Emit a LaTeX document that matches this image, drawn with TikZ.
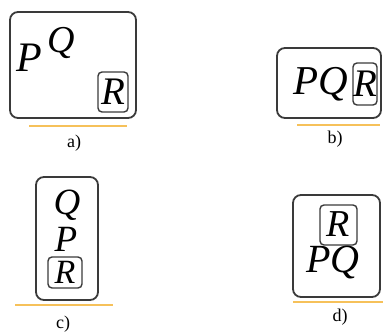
\documentclass[tikz,border=0pt]{standalone}
\usepackage{fontspec}
\setmainfont{Liberation Serif}
\definecolor{boxgray}{HTML}{3A3A3A}
\definecolor{lineorange}{HTML}{F6C15A}
\tikzset{
  outerbox/.style={draw=boxgray, line width=1.8pt, rounded corners=8pt},
  rbox/.style={draw=boxgray, line width=1.4pt, rounded corners=4pt},
  letter/.style={inner sep=0pt, font=\fontsize{#1}{#1}\selectfont\itshape},
  uline/.style={draw=lineorange, line width=1.3pt},
  caption/.style={inner sep=0pt, font=\fontsize{18}{18}\selectfont}
}
\begin{document}
\begin{tikzpicture}[x=1pt,y=-1pt]
\useasboundingbox (0,0) rectangle (383,336);
% ---- a)
\draw[outerbox] (10,12) rectangle (136,118);
\node[letter=42, anchor=base west] (aP) at (16,72) {P};
\node[letter=38, anchor=base west] (aQ) at (47,53) {Q};
\draw[rbox] (98,72) rectangle (128,112);
\node[letter=39] (aR) at (113,92) {R};
\coordinate (aL1) at (29,126); \coordinate (aL2) at (127,126);
\draw[uline] (aL1) -- (aL2);
\node[caption] (acap) at (74,143) {a)};
% ---- b)
\draw[outerbox] (277,48) rectangle (381,118);
\node[letter=41, anchor=base west] (bPQ) at (293,95) {PQ};
\draw[rbox] (353,63) rectangle (377,105);
\node[letter=39] (bR) at (365,84) {R};
\coordinate (bL1) at (297,125); \coordinate (bL2) at (380,125);
\draw[uline] (bL1) -- (bL2);
\node[caption] (bcap) at (335,139) {b)};
% ---- c)
\draw[outerbox] (36,177) rectangle (98,300);
\node[letter=37, anchor=base] (cQ) at (67,215) {Q};
\node[letter=37, anchor=base] (cP) at (66,252) {P};
\draw[rbox] (48,257) rectangle (82,288);
\node[letter=34] (cR) at (65,272.5) {R};
\coordinate (cL1) at (15,305); \coordinate (cL2) at (113,305);
\draw[uline] (cL1) -- (cL2);
\node[caption] (ccap) at (63,324) {c)};
% ---- d)
\draw[outerbox] (293,195) rectangle (380,297);
\draw[rbox] (320,205) rectangle (357,245);
\node[letter=38] (dR) at (338.5,224.5) {R};
\node[letter=40, anchor=base west] (dPQ) at (306,273) {PQ};
\coordinate (dL1) at (293,302); \coordinate (dL2) at (383,302);
\draw[uline] (dL1) -- (dL2);
\node[caption] (dcap) at (340,317) {d)};
\end{tikzpicture}
\end{document}
